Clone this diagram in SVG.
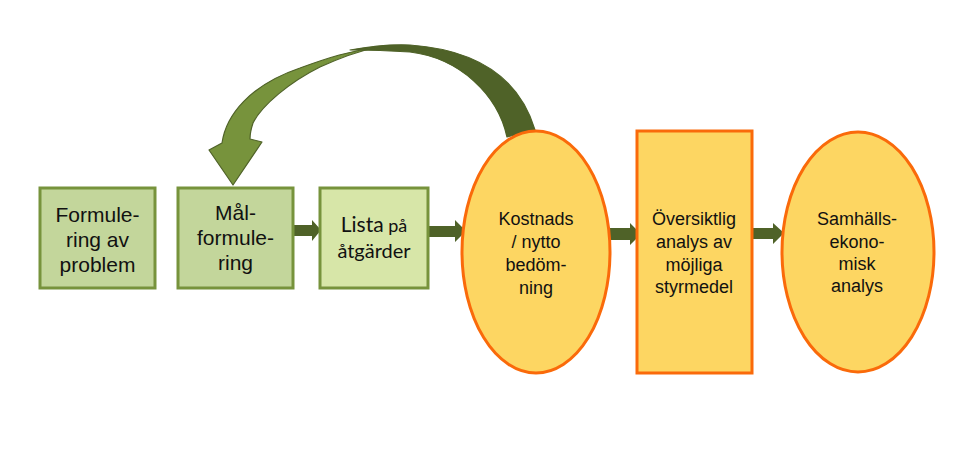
<svg xmlns="http://www.w3.org/2000/svg" width="960" height="449" viewBox="0 0 960 449">
<style>
.gbox{stroke:#77933c;stroke-width:3}
.ybox{fill:#fdd662;stroke:#fa6a0a;stroke-width:3}
.t{font-family:"Liberation Sans",Arial,sans-serif;fill:#111;text-anchor:middle}
.t20{font-size:21px}
.t18{font-size:18px}
.c{font-family:Lato,"Open Sans",sans-serif;fill:#111;text-anchor:middle}
.arr{fill:#4f6228}
</style>
<rect width="960" height="449" fill="#ffffff"/>
<g id="connectors">
<path class="arr" d="M293,225 H312 V220 L321,230 L312,241 V236 H293 Z"/>
<path class="arr" d="M428,226 H455 V220 L466,231 L455,242 V237 H428 Z"/>
<path class="arr" d="M608,228 H630 V223 L641,234 L630,245 V240 H608 Z"/>
<path class="arr" d="M750,228 H773 V223 L784,233 L773,244 V239 H750 Z"/>
<g id="curved-arrow" stroke="#4f6228" stroke-width="1.2" stroke-linejoin="round">
<path fill="#4f6228" d="M535,130 C520,80 480,50 410,45 C390,44 372,46 350,50 C375,50 395,51 410,52 C460,58 498,95 507,137 Z"/>
<path fill="#77933c" d="M209,150 L222,143 C226,115 250,85 300,68 C330,57 350,51 374,48 C355,52 340,58 320,67 C290,82 262,105 253,123 C251,129 250,134 250,139 L262,142 L233,185 Z"/>
</g>
</g>
<g id="n1">
<rect class="gbox" x="40" y="188" width="115" height="100" fill="#c3d69b"/>
<text class="t t20" x="97.5" y="222">Formule-</text>
<text class="t t20" x="97.5" y="247">ring av</text>
<text class="t t20" x="97.5" y="272">problem</text>
</g>
<g id="n2">
<rect class="gbox" x="178" y="188" width="115" height="100" fill="#c3d69b"/>
<text class="t t20" x="235.5" y="220">Mål-</text>
<text class="t t20" x="235.5" y="245">formule-</text>
<text class="t t20" x="235.5" y="270">ring</text>
</g>
<g id="n3">
<rect class="gbox" x="320" y="188" width="108" height="100" fill="#d7e6a8"/>
<text class="c" x="374" y="232"><tspan font-size="21px">Lista</tspan><tspan font-size="18px"> på</tspan></text>
<text class="c" x="374" y="258" font-size="20px">åtgärder</text>
</g>
<g id="n4">
<ellipse class="ybox" cx="536" cy="252" rx="74" ry="121"/>
<text class="t t18" x="536" y="225">Kostnads</text>
<text class="t t18" x="536" y="248">/ nytto</text>
<text class="t t18" x="536" y="271">bedöm-</text>
<text class="t t18" x="536" y="294">ning</text>
</g>
<g id="n5">
<rect class="ybox" x="637" y="131" width="115" height="242"/>
<text class="t t18" x="694" y="225">Översiktlig</text>
<text class="t t18" x="694" y="248">analys av</text>
<text class="t t18" x="694" y="271">möjliga</text>
<text class="t t18" x="694" y="293">styrmedel</text>
</g>
<g id="n6">
<ellipse class="ybox" cx="858" cy="252" rx="76" ry="120"/>
<text class="t t18" x="857" y="225">Samhälls-</text>
<text class="t t18" x="857" y="248">ekono-</text>
<text class="t t18" x="857" y="270">misk</text>
<text class="t t18" x="857" y="292">analys</text>
</g>
</svg>
